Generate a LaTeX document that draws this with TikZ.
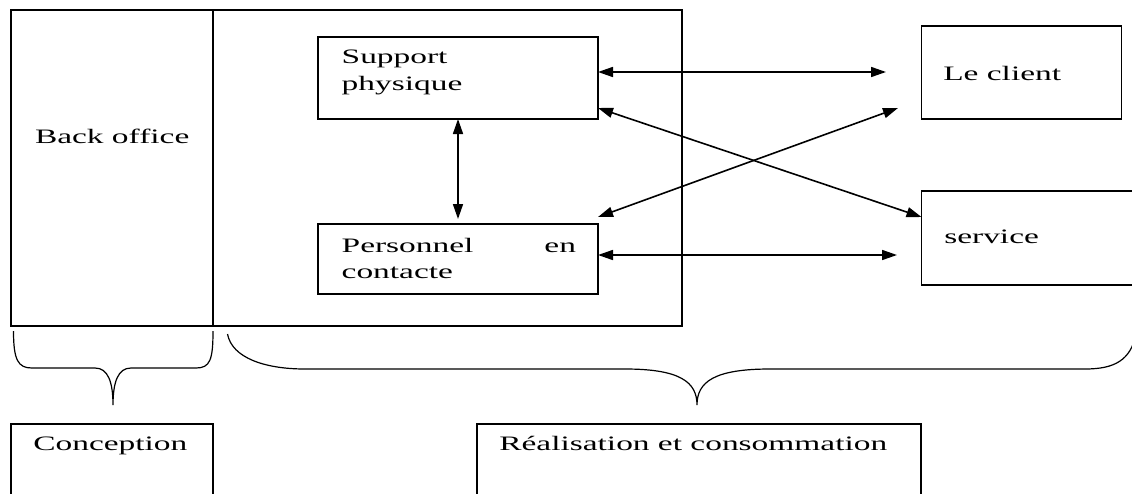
\documentclass[tikz,border=0pt]{standalone}
\usepackage{fontspec}
\setmainfont{Liberation Serif}[FakeStretch=1.63]
\usetikzlibrary{arrows.meta}

\begin{document}
\begin{tikzpicture}[x=1pt,y=-1pt,
  box/.style={draw, line width=1.2pt, inner sep=0pt, outer sep=0pt, anchor=north west},
  lbl/.style={inner sep=0pt, outer sep=0pt, anchor=base west, font=\fontsize{20.5}{24}\selectfont},
  link/.style={line width=1.6pt, {Triangle[length=15pt,width=10pt]}-{Triangle[length=15pt,width=10pt]}},
  brace/.style={line width=1.2pt}]
\useasboundingbox (0,0) rectangle (1132,493);
\clip (0,0) rectangle (1132,493);
\fill[white] (0,0) rectangle (1132,493);

% frames of the two stages
\node[box, minimum width=202pt, minimum height=316pt] (back) at (11,10) {};
\node[box, minimum width=469pt, minimum height=316pt] (front) at (213,10) {};

% elements of the servuction system
\node[box, minimum width=280pt, minimum height=82pt] (sp) at (318,37) {};
\node[box, minimum width=280pt, minimum height=70pt] (pc) at (318,224) {};
\node[box, minimum width=200pt, minimum height=93pt] (client) at (921.5,26) {};
\node[box, minimum width=260pt, minimum height=94pt] (service) at (921.5,191) {};

% phases
\node[box, minimum width=202pt, minimum height=100pt] (concep) at (11,424) {};
\node[box, minimum width=444pt, minimum height=100pt] (real) at (477,424) {};

% texts
\node[lbl] (tback) at (35,143) {Back office};
\node[lbl] (tsp1) at (341.7,63) {Support};
\node[lbl] (tsp2) at (341.7,90) {physique};
\node[lbl] (tpc1) at (341.7,252) {Personnel};
\node[lbl, anchor=base east] (tpc2) at (576,252) {en};
\node[lbl] (tpc3) at (341.7,278) {contacte};
\node[lbl] (tcl) at (943.3,80) {Le client};
\node[lbl] (tsv) at (944.3,243) {service};
\node[lbl] (tco) at (33.3,450) {Conception};
\node[lbl] (tre) at (499.3,450) {Réalisation et consommation};

% interactions
\coordinate (e1) at (886,72);
\coordinate (e2) at (898,108);
\coordinate (e3) at (897,255);
\draw[link] ([yshift=6pt]sp.east) -- (e1);
\draw[link] ([yshift=-71pt]sp.north east) -- ([yshift=-26pt]service.north west);
\draw[link] ([yshift=7pt]pc.north east) -- (e2);
\draw[link] ([yshift=4pt]pc.east) -- (e3);
\draw[link, shorten >=5pt] (sp.south) -- (pc.north);

% braces grouping the stages
\draw[brace] (13.5,331) .. controls (13.5,360) and (18,368) .. (32,368) -- (95,368)
  .. controls (108,368) and (113,382) .. (113,405)
  .. controls (113,382) and (118,368) .. (131,368) -- (196,368)
  .. controls (210,368) and (213,360) .. (213,331);
\draw[brace] (227.5,334) .. controls (232,358) and (265,369) .. (305,369) -- (625,369)
  .. controls (680,369) and (697,382) .. (697,405)
  .. controls (697,382) and (714,369) .. (770,369) -- (1085,369)
  .. controls (1115,369) and (1130,360) .. (1136,335);
\end{tikzpicture}
\end{document}
